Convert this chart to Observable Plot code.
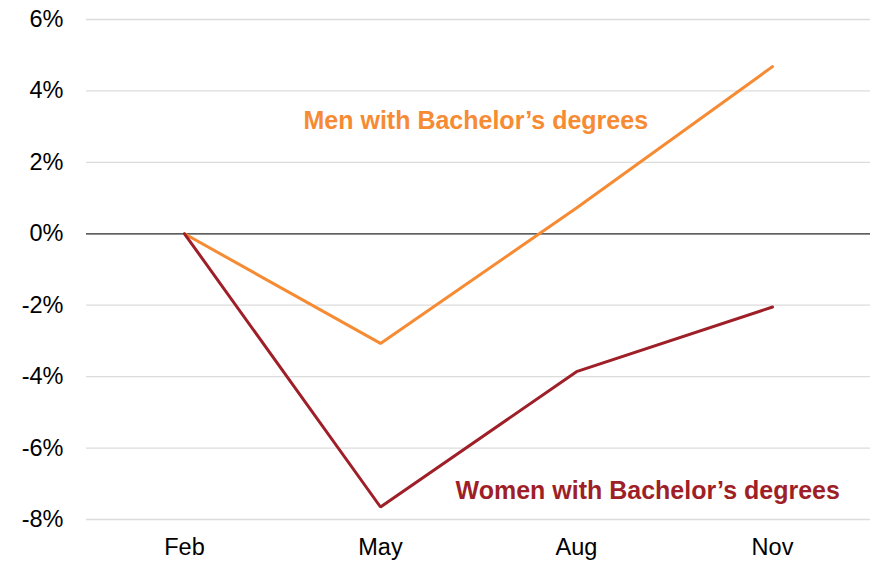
<!DOCTYPE html>
<html>
<head>
<meta charset="utf-8">
<script src="https://cdn.jsdelivr.net/npm/d3@7"></script>
<script src="https://cdn.jsdelivr.net/npm/@observablehq/plot@0.6"></script>
<style>
  html, body { margin: 0; padding: 0; background: #fff; }
  #chart svg { display: block; }
</style>
</head>
<body>
<div id="chart"></div>
<script>
const months = ["Feb", "May", "Aug", "Nov"];
const menValues = [0, -3.07, 0.72, 4.68];
const womenValues = [0, -7.65, -3.86, -2.05];
const seriesNames = ["Men with Bachelor’s degrees", "Women with Bachelor’s degrees"];
const seriesColors = ["#f68b33", "#9e1f27"];
const yTicks = [-8, -6, -4, -2, 0, 2, 4, 6];

const rows = [
  ...months.map((m, i) => ({month: m, value: menValues[i], series: seriesNames[0]})),
  ...months.map((m, i) => ({month: m, value: womenValues[i], series: seriesNames[1]}))
];

const menLabel = [{month: "May", value: 3.15, text: seriesNames[0]}];
const womenLabel = [{month: "Aug", value: -7.2, text: seriesNames[1]}];

const chart = Plot.plot({
  width: 870,
  height: 562,
  marginLeft: 86,
  marginRight: 0,
  marginTop: 19,
  marginBottom: 43,
  style: {fontFamily: "'Liberation Sans', Arial, Helvetica, sans-serif", fontSize: "23px", color: "black", background: "white"},
  x: {type: "point", domain: months, padding: 0.5, label: null},
  y: {domain: [-8, 6], label: null},
  color: {domain: seriesNames, range: seriesColors},
  marks: [
    Plot.ruleY(yTicks, {stroke: "#dcdcdc", strokeWidth: 1.3}),
    Plot.ruleY([0], {stroke: "#333", strokeWidth: 1.2}),
    Plot.axisY({ticks: yTicks, tickSize: 0, tickPadding: 23, tickFormat: d => `${d}%`, fontSize: 23.5, label: null}),
    Plot.axisX({tickSize: 0, tickPadding: 19, fontSize: 23.5, label: null}),
    Plot.line(rows, {x: "month", y: "value", z: "series", stroke: "series", strokeWidth: 3, strokeLinejoin: "miter", strokeLinecap: "round"}),
    Plot.text(menLabel, {x: "month", y: "value", text: "text", dx: -77, textAnchor: "start", fill: seriesColors[0], fontWeight: "bold", fontSize: 25}),
    Plot.text(womenLabel, {x: "month", y: "value", text: "text", dx: -121, textAnchor: "start", fill: seriesColors[1], fontWeight: "bold", fontSize: 25})
  ]
});
document.getElementById("chart").append(chart);
</script>
</body>
</html>
